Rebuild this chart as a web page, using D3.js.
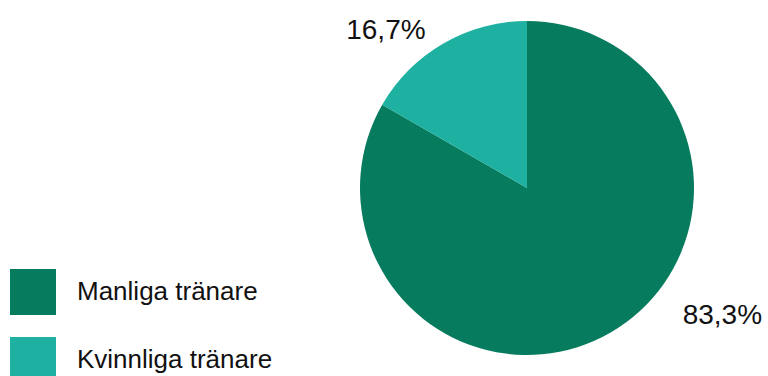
<!DOCTYPE html>
<html>
<head>
<meta charset="utf-8">
<script src="https://cdn.jsdelivr.net/npm/d3@7"></script>
<style>
  html, body { margin: 0; padding: 0; background: #fff; }
  svg { display: block; font-family: "Liberation Sans", Arial, sans-serif; }
</style>
</head>
<body>
<svg id="chart" width="768" height="376"></svg>
<script>
// Share of coaches by gender
const categories = ["Manliga tränare", "Kvinnliga tränare"];
const shares = [83.3, 16.7];
const valueLabels = ["83,3%", "16,7%"];
const colors = ["#067b5e", "#1eb0a0"];

const svg = d3.select("#chart");
const cx = 527, cy = 188, radius = 167;

const pie = d3.pie().sort(null).value(d => d)(shares);
const arc = d3.arc().innerRadius(0).outerRadius(radius);

const g = svg.append("g").attr("transform", `translate(${cx},${cy})`);
g.selectAll("path")
  .data(pie)
  .join("path")
  .attr("d", arc)
  .attr("fill", (d, i) => colors[i]);

// Percentage labels sit just outside the rim (angle in degrees clockwise from top, distance as rim multiple)
const labelAngle = [123, -41.7];
const labelDist = [1.395, 1.27];
g.selectAll("text.val")
  .data(pie)
  .join("text")
  .attr("class", "val")
  .attr("x", (d, i) => Math.sin(labelAngle[i] * Math.PI / 180) * radius * labelDist[i])
  .attr("y", (d, i) => -Math.cos(labelAngle[i] * Math.PI / 180) * radius * labelDist[i])
  .attr("text-anchor", "middle")
  .attr("dominant-baseline", "central")
  .attr("font-size", 28)
  .attr("fill", "#111")
  .text((d, i) => valueLabels[i]);

// Legend
const legend = svg.append("g").attr("transform", "translate(10,269)");
const item = legend.selectAll("g")
  .data(categories)
  .join("g")
  .attr("transform", (d, i) => `translate(0,${i * 68})`);
item.append("rect")
  .attr("width", 46).attr("height", 46)
  .attr("fill", (d, i) => colors[i]);
item.append("text")
  .attr("x", 67).attr("y", 31)
  .attr("font-size", 26)
  .attr("fill", "#111")
  .text(d => d);
</script>
</body>
</html>
